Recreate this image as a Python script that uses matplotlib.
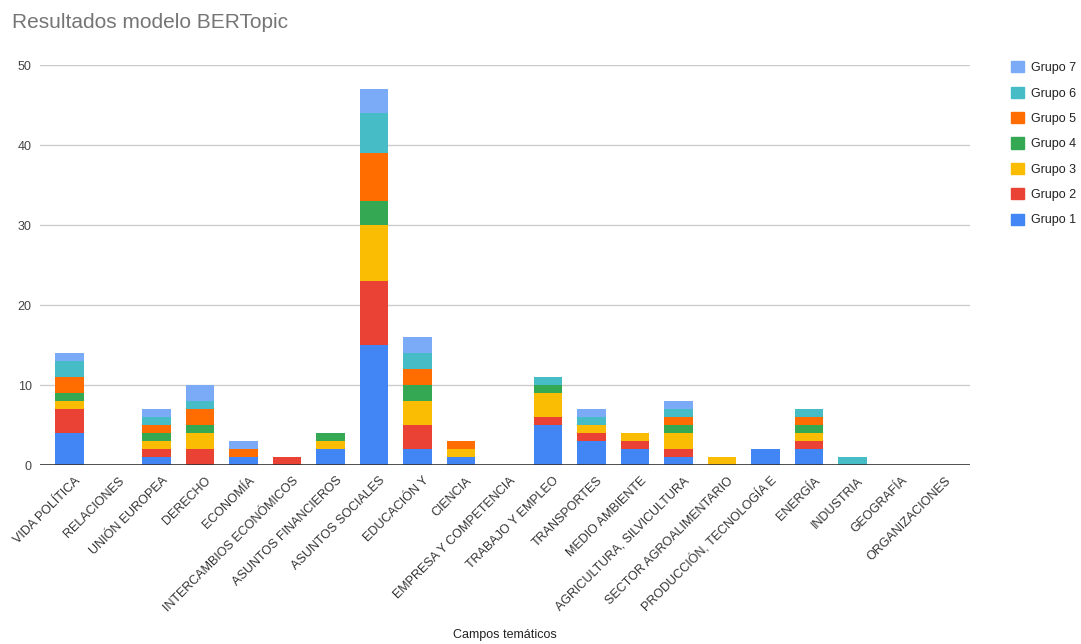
import matplotlib as mpl
mpl.use('Agg')
import matplotlib.pyplot as plt
import matplotlib.patches as mpatches
import matplotlib.transforms as mtransforms
import numpy as np

plt.rcParams['font.family'] = ['Liberation Sans', 'DejaVu Sans']

campos = ["VIDA POLÍTICA", "RELACIONES", "UNIÓN EUROPEA", "DERECHO", "ECONOMÍA",
          "INTERCAMBIOS ECONÓMICOS", "ASUNTOS FINANCIEROS", "ASUNTOS SOCIALES",
          "EDUCACIÓN Y", "CIENCIA", "EMPRESA Y COMPETENCIA", "TRABAJO Y EMPLEO",
          "TRANSPORTES", "MEDIO AMBIENTE", "AGRICULTURA, SILVICULTURA",
          "SECTOR AGROALIMENTARIO", "PRODUCCIÓN, TECNOLOGÍA E", "ENERGÍA",
          "INDUSTRIA", "GEOGRAFÍA", "ORGANIZACIONES"]

grupo1 = [4, 0, 1, 0, 1, 0, 2, 15, 2, 1, 0, 5, 3, 2, 1, 0, 2, 2, 0, 0, 0]
grupo2 = [3, 0, 1, 2, 0, 1, 0, 8, 3, 0, 0, 1, 1, 1, 1, 0, 0, 1, 0, 0, 0]
grupo3 = [1, 0, 1, 2, 0, 0, 1, 7, 3, 1, 0, 3, 1, 1, 2, 1, 0, 1, 0, 0, 0]
grupo4 = [1, 0, 1, 1, 0, 0, 1, 3, 2, 0, 0, 1, 0, 0, 1, 0, 0, 1, 0, 0, 0]
grupo5 = [2, 0, 1, 2, 1, 0, 0, 6, 2, 1, 0, 0, 0, 0, 1, 0, 0, 1, 0, 0, 0]
grupo6 = [2, 0, 1, 1, 0, 0, 0, 5, 2, 0, 0, 1, 1, 0, 1, 0, 0, 1, 1, 0, 0]
grupo7 = [1, 0, 1, 2, 1, 0, 0, 3, 2, 0, 0, 0, 1, 0, 1, 0, 0, 0, 0, 0, 0]

grupos = [grupo1, grupo2, grupo3, grupo4, grupo5, grupo6, grupo7]
nombres = ["Grupo 1", "Grupo 2", "Grupo 3", "Grupo 4", "Grupo 5", "Grupo 6", "Grupo 7"]
colores = ['#4285F4', '#EA4335', '#FBBC04', '#34A853', '#FF6D01', '#46BDC6', '#7BAAF7']

W, H = 1081, 644
fig = plt.figure(figsize=(W / 100, H / 100), dpi=100)
ax = fig.add_axes([40 / W, (H - 465) / H, 930 / W, 400 / H])

x = np.arange(len(campos))
bottom = np.zeros(len(campos))
for vals, color, name in zip(grupos, colores, nombres):
    vals = np.array(vals, dtype=float)
    ax.bar(x, vals, width=0.65, bottom=bottom, color=color, label=name, zorder=3)
    bottom += vals

ax.set_xlim(-0.68, 20.70)
ax.set_ylim(0, 50)
ax.set_yticks([0, 10, 20, 30, 40, 50])
ax.grid(axis='y', color='#cccccc', linewidth=1, zorder=0)
ax.axhline(0, color='#333333', linewidth=1.2, zorder=4)
for s in ax.spines.values():
    s.set_visible(False)
ax.tick_params(axis='y', length=0, pad=6, labelsize=9, labelcolor='#444444')
ax.tick_params(axis='x', length=0, pad=7)
ax.set_xticks(x)
ax.set_xticklabels(campos, rotation=45, ha='right', va='top', rotation_mode='anchor',
                   fontsize=9, color='#333333')
# shift rotated labels a bit to the right of each bar
shift = mtransforms.ScaledTranslation(5 / 100, 0, fig.dpi_scale_trans)
for lbl in ax.get_xticklabels():
    lbl.set_transform(lbl.get_transform() + shift)

fig.text(505 / W, 1 - 635 / H, "Campos temáticos", fontsize=9, color='#222222',
         ha='center', va='center')

fig.text(12 / W, 1 - 22 / H, "Resultados modelo BERTopic", fontsize=15,
         color='#757575', va='center', ha='left')

handles = [mpatches.Patch(color=c, label=n) for c, n in zip(colores, nombres)][::-1]
fig.legend(handles=handles, loc='upper left', bbox_to_anchor=(1000 / W, 1 - 50 / H),
           frameon=False, fontsize=9, handlelength=1.0, handleheight=1.0,
           handletextpad=0.6, labelspacing=1.0, labelcolor='#222222')

fig.savefig('out.png', dpi=100)
